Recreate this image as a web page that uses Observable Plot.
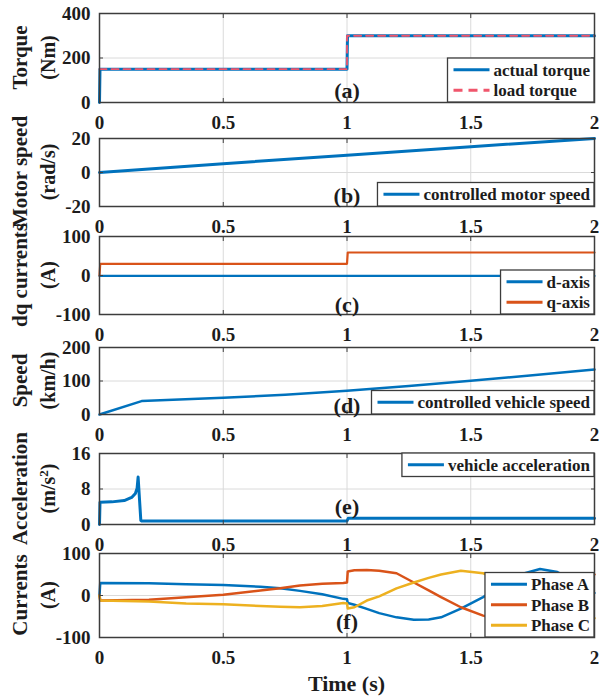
<!DOCTYPE html>
<html><head><meta charset="utf-8">
<script src="https://cdn.jsdelivr.net/npm/d3@7"></script>
<script src="https://cdn.jsdelivr.net/npm/@observablehq/plot@0.6"></script>
<style>
body{margin:0;background:#fff;}
#chart{position:relative;width:599px;height:700px;overflow:hidden;background:#fff;}
#chart svg{position:absolute;left:0;overflow:visible;}
</style></head><body><div id="chart"></div>
<script>
// ---------- data ----------
const timeTicks = [0, 0.5, 1, 1.5, 2];

// (a) torque
const torqueTime = [0, 0.002, 1, 1.002, 2];
const actualTorque = [0, 150, 150, 300, 300];
const loadTime = [0, 1, 1, 2];
const loadTorque = [150, 150, 300, 300];
const torqueTicks = [0, 200, 400];

// (b) motor speed
const motorTime = [0, 0.5, 1, 1.5, 2];
const motorSpeed = [0, 5.2, 10.1, 15.2, 20];
const motorTicks = [-20, 0, 20];

// (c) dq currents
const dTime = [0, 2];
const dCurrent = [-1, -1];
const qTime = [0, 0.003, 1, 1.003, 2];
const qCurrent = [0, 30, 30, 59, 59];
const dqTicks = [-100, 0, 100];

// (d) vehicle speed
const vehTime = [0, 0.17, 0.5, 0.75, 1, 1.25, 1.5, 1.75, 2];
const vehSpeed = [0, 40, 50, 59, 71, 85, 101, 117, 134];
const vehTicks = [0, 100, 200];

// (e) acceleration
const accTime = [0, 0.002, 0.05, 0.1, 0.13, 0.145, 0.152, 0.156, 0.167, 0.17, 1, 1.005, 2];
const accValue = [0, 5.0, 5.1, 5.4, 6.1, 7.0, 8.2, 10.7, 0.9, 0.8, 0.8, 1.4, 1.4];
const accTicks = [0, 8, 16];

// (f) phase currents
const phaseTime = [0, 0.003, 0.2, 0.35, 0.5, 0.65, 0.73, 0.81, 0.9, 0.985, 1.0, 1.003, 1.03, 1.08, 1.13, 1.2, 1.27, 1.33, 1.38, 1.46, 1.55, 1.62, 1.7, 1.78, 1.85, 1.92, 2.0];
const phaseA = [0, 30, 29, 27, 25, 21, 17, 11, 3, -8, -9, -18, -22, -32, -42, -52, -58, -57, -52, -31, -4, 22, 50, 63, 56, 34, 6];
const phaseB = [0, -12, -10, -4, 2, 12, 17, 24, 28, 30, 31, 57, 60, 61, 59, 53, 31, 12, -4, -28, -48, -58, -52, -26, 0, 26, 50];
const phaseC = [0, -12, -14, -19, -21, -25, -27, -28, -25, -18, -19, -31, -28, -12, -2, 17, 31, 42, 50, 59, 53, 38, 5, -35, -54, -59, -54];
const phaseTicks = [-100, 0, 100];

// ---------- styling ----------
const W = 599, ML = 99, MR = 5, MT = 14, MB = 40;
const FONT = '"Liberation Serif","Times New Roman",serif';
const BLUE = "#0072BD", ORANGE = "#D95319", YELLOW = "#EDB120", PINK = "#F0566C";
const chart = document.getElementById("chart");
const series = (T, V) => T.map((t, i) => ({t, v: V[i]}));

function panel(cfg) {
  const h = cfg.bottom - cfg.top;
  const mb = cfg.mb ?? MB;
  const svg = Plot.plot({
    width: W, height: h + MT + mb,
    marginLeft: ML, marginRight: MR, marginTop: MT, marginBottom: mb,
    style: {fontFamily: FONT, fontWeight: "bold", fontSize: "19px", color: "#1c1c1c", background: "transparent", overflow: "visible"},
    x: {domain: [0, 2], label: null},
    y: {domain: cfg.yDomain, label: null},
    marks: [
      Plot.gridX(timeTicks, {stroke: "#dadada", strokeOpacity: 1, strokeWidth: 1}),
      Plot.gridY(cfg.yTicks, {stroke: "#dadada", strokeOpacity: 1, strokeWidth: 1}),
      ...cfg.marks,
      Plot.axisX(timeTicks, {anchor: "bottom", tickSize: -4, tickPadding: 17, tickFormat: d => String(d), stroke: "#404040"}),
      Plot.axisX(timeTicks, {anchor: "top", tickSize: -4, tickFormat: () => "", stroke: "#404040"}),
      Plot.axisY(cfg.yTicks, {anchor: "left", tickSize: -4, tickPadding: 13, tickFormat: d => String(d), stroke: "#404040"}),
      Plot.axisY(cfg.yTicks, {anchor: "right", tickSize: -4, tickFormat: () => "", stroke: "#404040"}),
      Plot.frame({stroke: "#3c3c3c", strokeWidth: 1.5}),
      Plot.text([cfg.tag], {x: () => 1, frameAnchor: "bottom", lineAnchor: "bottom", dy: cfg.tagDy, fontSize: 22, fontWeight: "bold", fill: "#1c1c1c"})
    ]
  });
  svg.style.top = (cfg.top - MT) + "px";
  chart.appendChild(svg);
  const s = d3.select(svg);
  const cy = MT + h / 2;

  // y labels
  const lab = s.append("g").attr("font-family", FONT).attr("font-weight", "bold").attr("fill", "#1c1c1c").attr("text-anchor", "middle");
  lab.append("text").attr("transform", `translate(20,${cy}) rotate(-90)`).attr("dy", "0.35em").attr("font-size", 21).text(cfg.label);
  const u = lab.append("text").attr("transform", `translate(48,${cy}) rotate(-90)`).attr("dy", "0.35em").attr("font-size", 20);
  cfg.unit.forEach(p => {
    const ts = u.append("tspan").text(p.t);
    if (p.sup) ts.attr("font-size", 13).attr("baseline-shift", "super");
  });

  // legend
  const right = W - MR, fTop = MT, fBottom = MT + h;
  const g = s.append("g").attr("font-family", FONT).attr("font-weight", "bold").attr("font-size", 17)
    .attr("fill", "#1c1c1c").attr("text-anchor", "start");
  const rect = g.append("rect");
  const rowH = 20.5, pad = 1.5, lineStart = 6, lineLen = 36, gap = 4, padR = 4;
  const texts = cfg.legend.entries.map(e => g.append("text").text(e.label));
  const maxW = d3.max(texts, t => t.node().getComputedTextLength());
  const bw = lineStart + lineLen + gap + maxW + padR;
  const bh = cfg.legend.entries.length * rowH + 2 * pad;
  const x0 = right - bw, y0 = cfg.legend.pos === "top" ? fTop : fBottom - bh;
  rect.attr("x", x0).attr("y", y0).attr("width", bw).attr("height", bh)
      .attr("fill", "#fff").attr("stroke", "#3c3c3c").attr("stroke-width", 1.3);
  cfg.legend.entries.forEach((e, i) => {
    const ly = y0 + pad + rowH * (i + 0.5);
    g.append("line").attr("x1", x0 + lineStart).attr("x2", x0 + lineStart + lineLen)
      .attr("y1", ly).attr("y2", ly).attr("stroke", e.color).attr("stroke-width", 3)
      .attr("stroke-dasharray", e.dash || null);
    texts[i].attr("x", x0 + lineStart + lineLen + gap).attr("y", ly).attr("dy", "0.35em");
  });
  return svg;
}

panel({
  top: 13, bottom: 102, yDomain: [0, 400], yTicks: torqueTicks, tag: "(a)", tagDy: -5,
  label: "Torque", unit: [{t: "(Nm)"}],
  marks: [
    Plot.line(series(torqueTime, actualTorque), {x: "t", y: "v", stroke: BLUE, strokeWidth: 3}),
    Plot.line(series(loadTime, loadTorque), {x: "t", y: "v", stroke: PINK, strokeWidth: 1.8, strokeDasharray: "7,5"})
  ],
  legend: {pos: "bottom", entries: [
    {label: "actual torque", color: BLUE},
    {label: "load torque", color: PINK, dash: "9,6"}
  ]}
});

panel({
  top: 138, bottom: 206, yDomain: [-20, 20], yTicks: motorTicks, tag: "(b)", tagDy: -4,
  label: "Motor speed", unit: [{t: "(rad/s)"}],
  marks: [Plot.line(series(motorTime, motorSpeed), {x: "t", y: "v", stroke: BLUE, strokeWidth: 3})],
  legend: {pos: "bottom", entries: [{label: "controlled motor speed", color: BLUE}]}
});

panel({
  top: 236, bottom: 314, yDomain: [-100, 100], yTicks: dqTicks, tag: "(c)", tagDy: -3,
  label: "dq currents", unit: [{t: "(A)"}],
  marks: [
    Plot.line(series(dTime, dCurrent), {x: "t", y: "v", stroke: BLUE, strokeWidth: 2.2}),
    Plot.line(series(qTime, qCurrent), {x: "t", y: "v", stroke: ORANGE, strokeWidth: 2.2})
  ],
  legend: {pos: "bottom", entries: [
    {label: "d-axis", color: BLUE},
    {label: "q-axis", color: ORANGE}
  ]}
});

panel({
  top: 347, bottom: 414, yDomain: [0, 200], yTicks: vehTicks, tag: "(d)", tagDy: -2,
  label: "Speed", unit: [{t: "(km/h)"}],
  marks: [Plot.line(series(vehTime, vehSpeed), {x: "t", y: "v", stroke: BLUE, strokeWidth: 2.5})],
  legend: {pos: "bottom", entries: [{label: "controlled vehicle speed", color: BLUE}]}
});

panel({
  top: 453, bottom: 524, yDomain: [0, 16], yTicks: accTicks, tag: "(e)", tagDy: -11,
  label: "Acceleration", unit: [{t: "(m/s"}, {t: "2", sup: true}, {t: ")"}],
  marks: [Plot.line(series(accTime, accValue), {x: "t", y: "v", stroke: BLUE, strokeWidth: 3})],
  legend: {pos: "top", entries: [{label: "vehicle acceleration", color: BLUE}]}
});

const last = panel({
  top: 553, bottom: 637, yDomain: [-100, 100], yTicks: phaseTicks, tag: "(f)", tagDy: -9, mb: 63,
  label: "Currents", unit: [{t: "(A)"}],
  marks: [
    Plot.line(series(phaseTime, phaseA), {x: "t", y: "v", stroke: BLUE, strokeWidth: 2.5}),
    Plot.line(series(phaseTime, phaseB), {x: "t", y: "v", stroke: ORANGE, strokeWidth: 2.5}),
    Plot.line(series(phaseTime, phaseC), {x: "t", y: "v", stroke: YELLOW, strokeWidth: 2.5})
  ],
  legend: {pos: "bottom", entries: [
    {label: "Phase A", color: BLUE},
    {label: "Phase B", color: ORANGE},
    {label: "Phase C", color: YELLOW}
  ]}
});

d3.select(last).append("text")
  .attr("x", ML + (W - ML - MR) / 2).attr("y", 683 - (553 - MT)).attr("dy", "0.35em")
  .attr("text-anchor", "middle").attr("font-family", FONT).attr("font-weight", "bold")
  .attr("font-size", 22).attr("fill", "#1c1c1c").text("Time (s)");
</script>
</body></html>
